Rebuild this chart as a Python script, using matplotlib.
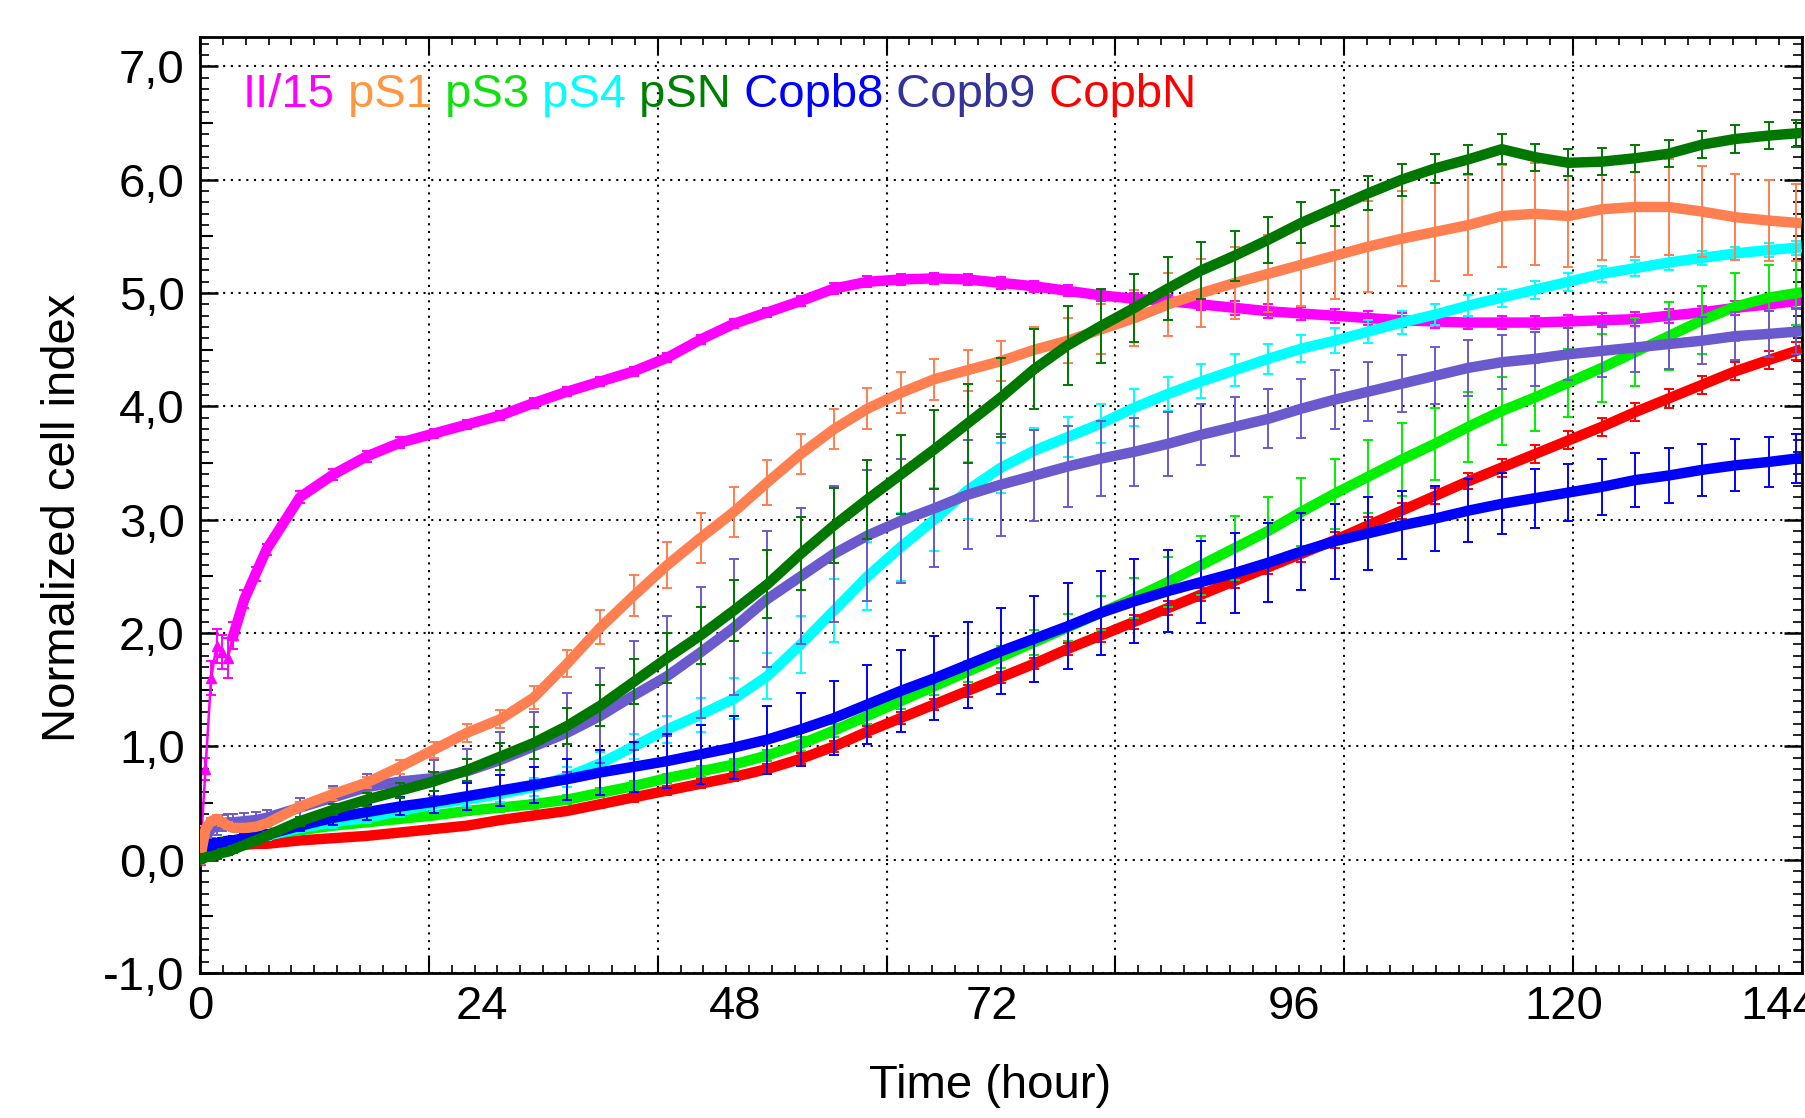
import numpy as np
import matplotlib
matplotlib.use('Agg')
import matplotlib.pyplot as plt

plt.rcParams['font.family'] = ['Liberation Sans', 'DejaVu Sans']

#dane (czas w godzinach)
czas = [0, 0.5, 1, 1.5, 2, 2.5, 3, 4, 5, 6,
        9, 12, 15, 18, 21, 24, 27, 30, 33, 36,
        39, 42, 45, 48, 51, 54, 57, 60, 63, 66,
        69, 72, 75, 78, 81, 84, 87, 90, 93, 96,
        99, 102, 105, 108, 111, 114, 117, 120, 123, 126,
        129, 132, 135, 138, 141, 143.5]

ii15 = [0.0, 0.8, 1.6, 1.89, 1.83, 1.78, 1.98, 2.3, 2.52, 2.74,
        3.2, 3.4, 3.56, 3.68, 3.76, 3.84, 3.92, 4.03, 4.13, 4.22,
        4.31, 4.43, 4.59, 4.73, 4.83, 4.93, 5.04, 5.1, 5.12, 5.13,
        5.12, 5.09, 5.06, 5.02, 4.98, 4.95, 4.93, 4.9, 4.87, 4.84,
        4.82, 4.8, 4.78, 4.76, 4.75, 4.74, 4.74, 4.74, 4.75, 4.76,
        4.77, 4.8, 4.83, 4.87, 4.9, 4.93]
ii15_err = [0, 0.1, 0.15, 0.15, 0.15, 0.18, 0.12, 0.08, 0.06, 0.05,
            0.05, 0.05, 0.05, 0.05, 0.04, 0.04, 0.04, 0.04, 0.04, 0.04,
            0.04, 0.04, 0.04, 0.04, 0.04, 0.04, 0.05, 0.05, 0.05, 0.05,
            0.05, 0.05, 0.05, 0.05, 0.05, 0.05, 0.05, 0.05, 0.06, 0.06,
            0.06, 0.06, 0.06, 0.06, 0.06, 0.06, 0.06, 0.06, 0.06, 0.06,
            0.06, 0.06, 0.06, 0.06, 0.06, 0.06]

ps1 = [0.0, 0.27, 0.34, 0.36, 0.33, 0.3, 0.28, 0.28, 0.29, 0.32,
       0.47, 0.58, 0.68, 0.82, 0.97, 1.12, 1.24, 1.43, 1.73, 2.05,
       2.33, 2.6, 2.84, 3.07, 3.33, 3.58, 3.8, 3.98, 4.12, 4.24,
       4.32, 4.4, 4.5, 4.58, 4.68, 4.78, 4.9, 5.0, 5.09, 5.17,
       5.25, 5.33, 5.41, 5.48, 5.54, 5.6, 5.68, 5.7, 5.68, 5.74,
       5.76, 5.76, 5.72, 5.67, 5.64, 5.62]
ps1_err = [0, 0.03, 0.03, 0.03, 0.03, 0.03, 0.03, 0.03, 0.03, 0.03,
           0.04, 0.05, 0.05, 0.06, 0.07, 0.08, 0.08, 0.1, 0.12, 0.15,
           0.18, 0.2, 0.22, 0.22, 0.2, 0.18, 0.18, 0.18, 0.18, 0.18,
           0.18, 0.18, 0.2, 0.2, 0.22, 0.25, 0.28, 0.3, 0.32, 0.34,
           0.36, 0.38, 0.4, 0.42, 0.43, 0.44, 0.45, 0.45, 0.45, 0.45,
           0.44, 0.42, 0.4, 0.38, 0.36, 0.34]

ps3 = [0.0, 0.08, 0.13, 0.15, 0.16, 0.17, 0.17, 0.19, 0.2, 0.22,
       0.26, 0.3, 0.33, 0.36, 0.39, 0.43, 0.46, 0.49, 0.53, 0.59,
       0.65, 0.72, 0.78, 0.84, 0.92, 1.02, 1.14, 1.27, 1.4, 1.53,
       1.66, 1.79, 1.92, 2.05, 2.18, 2.31, 2.45, 2.6, 2.75, 2.9,
       3.07, 3.23, 3.38, 3.53, 3.67, 3.82, 3.96, 4.08, 4.21, 4.34,
       4.48, 4.62, 4.76, 4.88, 4.96, 5.0]
ps3_err = [0, 0.02, 0.02, 0.02, 0.02, 0.02, 0.02, 0.02, 0.02, 0.02,
           0.03, 0.03, 0.03, 0.03, 0.03, 0.04, 0.04, 0.04, 0.04, 0.04,
           0.04, 0.04, 0.05, 0.05, 0.05, 0.06, 0.06, 0.07, 0.07, 0.08,
           0.09, 0.1, 0.11, 0.12, 0.15, 0.18, 0.22, 0.26, 0.28, 0.3,
           0.3, 0.31, 0.32, 0.32, 0.32, 0.31, 0.3, 0.3, 0.3, 0.3,
           0.3, 0.3, 0.3, 0.3, 0.29, 0.28]

ps4 = [0.03, 0.1, 0.14, 0.15, 0.15, 0.16, 0.16, 0.18, 0.19, 0.21,
       0.28, 0.33, 0.37, 0.43, 0.49, 0.53, 0.58, 0.64, 0.73, 0.85,
       1.0, 1.15, 1.28, 1.42, 1.62, 1.9, 2.2, 2.5, 2.76, 3.0,
       3.26, 3.46, 3.61, 3.73, 3.85, 3.99, 4.11, 4.22, 4.32, 4.42,
       4.51, 4.58, 4.66, 4.74, 4.81, 4.89, 4.96, 5.03, 5.1, 5.17,
       5.22, 5.27, 5.31, 5.35, 5.38, 5.4]
ps4_err = [0, 0.04, 0.04, 0.04, 0.04, 0.04, 0.04, 0.04, 0.04, 0.04,
           0.04, 0.05, 0.05, 0.05, 0.06, 0.06, 0.07, 0.08, 0.09, 0.1,
           0.11, 0.12, 0.15, 0.18, 0.2, 0.25, 0.28, 0.3, 0.3, 0.28,
           0.25, 0.22, 0.2, 0.18, 0.17, 0.16, 0.15, 0.15, 0.14, 0.13,
           0.12, 0.11, 0.1, 0.1, 0.09, 0.09, 0.08, 0.08, 0.08, 0.07,
           0.07, 0.07, 0.06, 0.06, 0.06, 0.06]

psn = [0.0, 0.02, 0.03, 0.04, 0.06, 0.07, 0.09, 0.13, 0.17, 0.21,
       0.34, 0.44, 0.53, 0.61, 0.69, 0.79, 0.91, 1.03, 1.18, 1.36,
       1.57, 1.78, 1.98, 2.2, 2.43, 2.7, 2.95, 3.18, 3.4, 3.62,
       3.85, 4.08, 4.33, 4.54, 4.71, 4.87, 5.04, 5.2, 5.33, 5.47,
       5.62, 5.75, 5.88, 6.0, 6.1, 6.18, 6.27, 6.2, 6.15, 6.16,
       6.19, 6.23, 6.31, 6.36, 6.39, 6.41]
psn_err = [0, 0.03, 0.03, 0.03, 0.03, 0.03, 0.03, 0.03, 0.03, 0.03,
           0.04, 0.05, 0.06, 0.07, 0.08, 0.1, 0.12, 0.14, 0.16, 0.18,
           0.2, 0.22, 0.25, 0.27, 0.3, 0.32, 0.33, 0.35, 0.35, 0.35,
           0.35, 0.35, 0.35, 0.35, 0.33, 0.3, 0.28, 0.25, 0.22, 0.2,
           0.18, 0.16, 0.15, 0.14, 0.13, 0.13, 0.13, 0.12, 0.12, 0.12,
           0.12, 0.12, 0.12, 0.12, 0.12, 0.12]

copb8 = [0.0, 0.08, 0.13, 0.14, 0.15, 0.16, 0.17, 0.19, 0.2, 0.22,
         0.3, 0.37, 0.42, 0.47, 0.51, 0.56, 0.61, 0.66, 0.71, 0.77,
         0.82, 0.87, 0.93, 0.99, 1.06, 1.15, 1.25, 1.37, 1.49, 1.6,
         1.72, 1.84, 1.95, 2.06, 2.18, 2.28, 2.37, 2.45, 2.53, 2.62,
         2.72, 2.81, 2.88, 2.95, 3.01, 3.08, 3.14, 3.19, 3.24, 3.29,
         3.35, 3.39, 3.44, 3.48, 3.51, 3.54]
copb8_err = [0, 0.04, 0.04, 0.04, 0.04, 0.04, 0.04, 0.04, 0.04, 0.04,
             0.05, 0.06, 0.07, 0.08, 0.1, 0.12, 0.14, 0.16, 0.18, 0.2,
             0.22, 0.24, 0.26, 0.28, 0.3, 0.32, 0.33, 0.35, 0.36, 0.37,
             0.38, 0.38, 0.38, 0.38, 0.37, 0.37, 0.36, 0.36, 0.35, 0.35,
             0.34, 0.33, 0.32, 0.3, 0.29, 0.28, 0.27, 0.26, 0.25, 0.25,
             0.24, 0.24, 0.23, 0.23, 0.22, 0.22]

copb9 = [0.07, 0.2, 0.27, 0.3, 0.32, 0.33, 0.33, 0.34, 0.35, 0.37,
         0.46, 0.55, 0.64, 0.69, 0.72, 0.78, 0.88, 1.0, 1.12, 1.27,
         1.45, 1.62, 1.83, 2.05, 2.3, 2.5, 2.7, 2.86, 2.99, 3.1,
         3.22, 3.31, 3.39, 3.47, 3.54, 3.6, 3.67, 3.75, 3.82, 3.89,
         3.98, 4.06, 4.13, 4.2, 4.27, 4.34, 4.39, 4.42, 4.46, 4.49,
         4.52, 4.55, 4.58, 4.62, 4.64, 4.66]
copb9_err = [0.1, 0.1, 0.08, 0.08, 0.07, 0.07, 0.07, 0.07, 0.07, 0.07,
             0.08, 0.1, 0.12, 0.14, 0.16, 0.2, 0.25, 0.3, 0.35, 0.42,
             0.48, 0.53, 0.58, 0.6, 0.6, 0.6, 0.6, 0.58, 0.55, 0.52,
             0.48, 0.45, 0.4, 0.36, 0.33, 0.3, 0.28, 0.27, 0.26, 0.26,
             0.26, 0.26, 0.26, 0.25, 0.25, 0.25, 0.24, 0.24, 0.23, 0.23,
             0.22, 0.22, 0.21, 0.21, 0.2, 0.2]

copbn = [0.0, 0.06, 0.1, 0.11, 0.12, 0.13, 0.13, 0.13, 0.14, 0.14,
         0.17, 0.19, 0.21, 0.24, 0.27, 0.3, 0.35, 0.39, 0.43, 0.49,
         0.55, 0.61, 0.67, 0.73, 0.8, 0.89, 1.0, 1.13, 1.25, 1.37,
         1.49, 1.61, 1.73, 1.86, 1.98, 2.1, 2.22, 2.34, 2.46, 2.58,
         2.7, 2.82, 2.95, 3.08, 3.21, 3.34, 3.46, 3.58, 3.7, 3.82,
         3.95, 4.07, 4.19, 4.31, 4.41, 4.49]
copbn_err = [0, 0.02, 0.02, 0.02, 0.02, 0.02, 0.02, 0.02, 0.02, 0.02,
             0.02, 0.02, 0.02, 0.03, 0.03, 0.03, 0.03, 0.03, 0.03, 0.03,
             0.04, 0.04, 0.04, 0.04, 0.04, 0.05, 0.05, 0.05, 0.05, 0.05,
             0.05, 0.05, 0.05, 0.05, 0.06, 0.06, 0.06, 0.06, 0.06, 0.06,
             0.07, 0.07, 0.07, 0.07, 0.07, 0.07, 0.08, 0.08, 0.08, 0.08,
             0.08, 0.08, 0.08, 0.08, 0.08, 0.08]

nazwy = ['II/15', 'pS1', 'pS3', 'pS4', 'pSN', 'Copb8', 'Copb9', 'CopbN']
kolory_opisu = ['#FF00FF', '#FF9640', '#10E010', '#00FFFF', '#008000', '#0000FF', '#333399', '#FF0000']

etykiety_y = [-1, 0, 1, 2, 3, 4, 5, 6, 7]
etykiety_x = [0, 24, 48, 72, 96, 120, 144]
#program RTCA stawia opisy osi x troche nierowno
polozenie_x = [0, 25.3, 48.1, 71.2, 98.3, 122.6, 142.0]

fig = plt.figure(figsize=(18.06, 11.18), dpi=100)
ax = fig.add_axes([0.1107, 0.1297, 0.8871, 0.8372])

styl = dict(elinewidth=1.4, capsize=3.5, capthick=1.4)
gr = 7.5

#kolejnosc rysowania jak w oryginale (ostatnia na wierzchu)
ax.errorbar(czas[:7], ii15[:7], yerr=ii15_err[:7], color='#FF00FF', lw=1.8, marker='^', ms=7, zorder=2, **styl)
ax.errorbar(czas[6:], ii15[6:], yerr=ii15_err[6:], color='#FF00FF', lw=gr, zorder=2, **styl)
ax.errorbar(czas, copbn, yerr=copbn_err, color='#FF0000', lw=gr, zorder=3, **styl)
ax.errorbar(czas, ps3, yerr=ps3_err, color='#00F000', lw=gr, zorder=4, **styl)
ax.errorbar(czas, ps4, yerr=ps4_err, color='#00FFFF', lw=gr, zorder=5, **styl)
ax.errorbar(czas, copb9, yerr=copb9_err, color='#6A5ACD', lw=gr, zorder=6, **styl)
ax.errorbar(czas, copb8, yerr=copb8_err, color='#0000FF', lw=gr, zorder=7, **styl)
ax.errorbar(czas, ps1, yerr=ps1_err, color='#FF7F50', lw=gr, zorder=8, **styl)
ax.errorbar(czas, psn, yerr=psn_err, color='#007800', lw=gr, zorder=9, **styl)

ax.set_xlim(0, 144)
ax.set_ylim(-1.0, 7.26)

#siatka co 1/7 osi czasu, jak w programie RTCA
ax.set_xticks(np.linspace(0, 144, 8))
ax.set_xticks(np.linspace(0, 144, 71), minor=True)
ax.set_yticks(etykiety_y)
ax.set_yticklabels([str(v) + ',0' for v in etykiety_y])
ax.set_yticks(np.arange(-1, 7.26, 0.1), minor=True)

ax.grid(True, which='major', color='black', linestyle=(0, (1, 2.7)), linewidth=1.5)
ax.tick_params(axis='x', which='major', direction='in', length=12, width=1.5, top=True, labelbottom=False)
ax.tick_params(axis='x', which='minor', direction='in', length=6, width=1.2, top=True)
ax.tick_params(axis='y', which='major', direction='in', length=13, width=1.8, right=True, labelsize=34, pad=11)
ax.tick_params(axis='y', which='minor', direction='in', length=6.5, width=1.2, right=True)
for s in ax.spines.values():
    s.set_linewidth(2)

#srednie kreski co 0,5
sec_y = ax.secondary_yaxis('left')
sec_y.set_yticks(np.arange(-0.5, 7, 1))
sec_y.tick_params(direction='in', length=9.5, width=1.5, labelleft=False)
sec_y.spines['left'].set_visible(False)

#opisy osi x
sec_x = ax.secondary_xaxis('bottom')
sec_x.set_xticks(polozenie_x)
sec_x.set_xticklabels([str(v) for v in etykiety_x])
sec_x.tick_params(length=0, pad=9, labelsize=34)
sec_x.spines['bottom'].set_visible(False)

fig.text(0.548, 0.0286, 'Time (hour)', fontsize=34, ha='center', va='center')
fig.text(0.0349, 0.5367, 'Normalized cell index', fontsize=34, ha='center', va='center', rotation=90)

#legenda jako kolorowy tekst
tekst = ax.text(0.0268, 0.9145, nazwy[0], color=kolory_opisu[0], fontsize=34,
                transform=ax.transAxes, va='bottom', zorder=20)
for nazwa, kolor in zip(nazwy[1:], kolory_opisu[1:]):
    tekst = ax.annotate(' ' + nazwa, xycoords=tekst, xy=(1, 0), va='bottom',
                        color=kolor, fontsize=34, zorder=20)

plt.savefig('out.png', dpi=100)
